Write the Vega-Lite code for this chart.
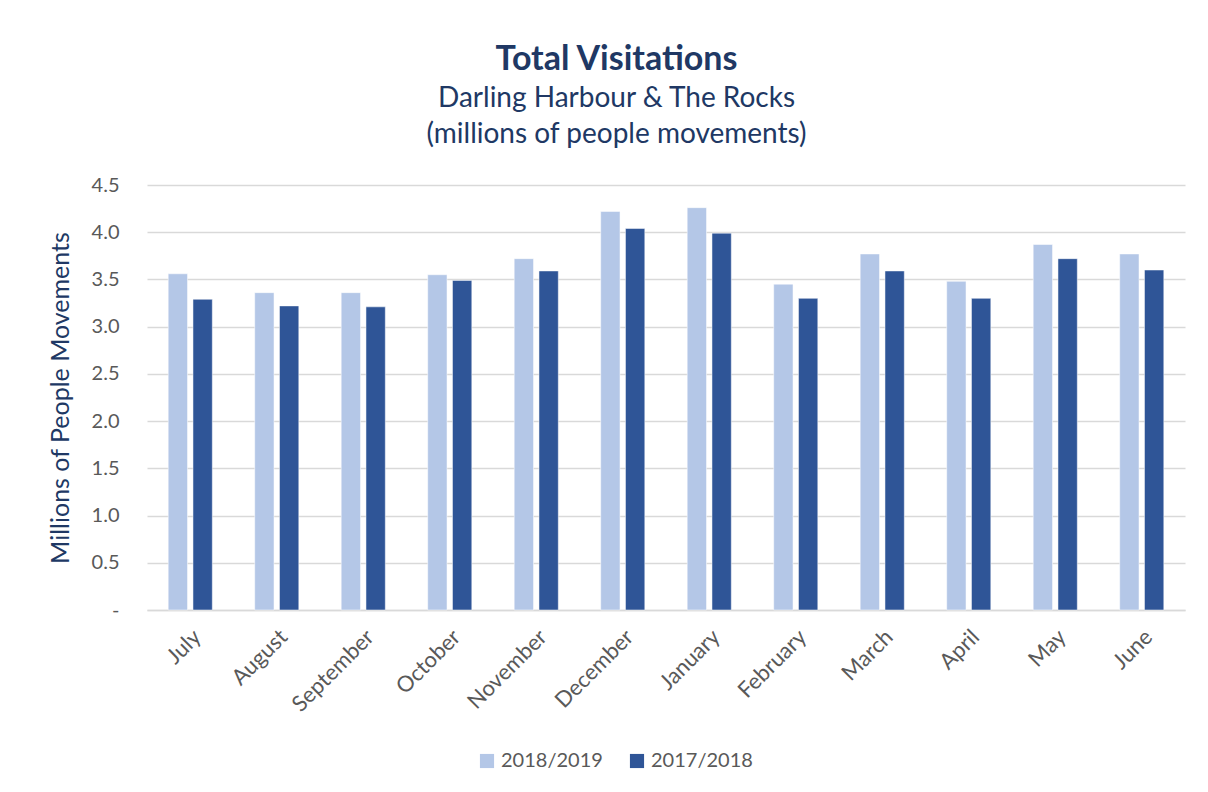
{
  "$schema": "https://vega.github.io/schema/vega-lite/v6.json",
  "width": 1038,
  "height": 425,
  "padding": {"left": 48, "top": 43, "right": 23, "bottom": 10},
  "background": "white",
  "title": {
    "text": "Total Visitations",
    "subtitle": ["Darling Harbour & The Rocks", "(millions of people movements)"],
    "font": "Lato",
    "fontSize": 34,
    "fontWeight": "bold",
    "color": "#203864",
    "subtitleFont": "Lato",
    "subtitleFontSize": 28,
    "subtitleColor": "#203864",
    "subtitlePadding": 8,
    "subtitleLineHeight": 36,
    "anchor": "middle",
    "frame": "bounds",
    "offset": 26
  },
  "data": {
    "values": [
      {"month": "July", "period": "2018/2019", "value": 3.56},
      {"month": "July", "period": "2017/2018", "value": 3.29},
      {"month": "August", "period": "2018/2019", "value": 3.36},
      {"month": "August", "period": "2017/2018", "value": 3.22},
      {"month": "September", "period": "2018/2019", "value": 3.36},
      {"month": "September", "period": "2017/2018", "value": 3.21},
      {"month": "October", "period": "2018/2019", "value": 3.55},
      {"month": "October", "period": "2017/2018", "value": 3.49},
      {"month": "November", "period": "2018/2019", "value": 3.72},
      {"month": "November", "period": "2017/2018", "value": 3.59},
      {"month": "December", "period": "2018/2019", "value": 4.22},
      {"month": "December", "period": "2017/2018", "value": 4.04},
      {"month": "January", "period": "2018/2019", "value": 4.26},
      {"month": "January", "period": "2017/2018", "value": 3.99},
      {"month": "February", "period": "2018/2019", "value": 3.45},
      {"month": "February", "period": "2017/2018", "value": 3.30},
      {"month": "March", "period": "2018/2019", "value": 3.77},
      {"month": "March", "period": "2017/2018", "value": 3.59},
      {"month": "April", "period": "2018/2019", "value": 3.48},
      {"month": "April", "period": "2017/2018", "value": 3.30},
      {"month": "May", "period": "2018/2019", "value": 3.87},
      {"month": "May", "period": "2017/2018", "value": 3.72},
      {"month": "June", "period": "2018/2019", "value": 3.77},
      {"month": "June", "period": "2017/2018", "value": 3.60}
    ]
  },
  "mark": {"type": "bar", "stroke": "white", "strokeWidth": 0.5},
  "encoding": {
    "x": {
      "field": "month",
      "type": "nominal",
      "sort": ["July", "August", "September", "October", "November", "December", "January", "February", "March", "April", "May", "June"],
      "scale": {"paddingInner": 0.49, "paddingOuter": 0.245},
      "axis": {
        "title": null,
        "labelAngle": -45,
        "labelFont": "Lato",
        "labelFontSize": 22,
        "labelColor": "#595959",
        "labelPadding": 16,
        "ticks": false,
        "domainColor": "#D9D9D9",
        "domainWidth": 1.5,
        "grid": false
      }
    },
    "xOffset": {
      "field": "period",
      "type": "nominal",
      "sort": ["2018/2019", "2017/2018"],
      "scale": {"paddingInner": 0.22, "paddingOuter": 0}
    },
    "y": {
      "field": "value",
      "type": "quantitative",
      "scale": {"domain": [0, 4.5], "nice": false},
      "axis": {
        "title": "Millions of People Movements",
        "titleFont": "Lato",
        "titleFontSize": 25,
        "titleFontWeight": "normal",
        "titleColor": "#203864",
        "titlePadding": 18,
        "values": [0, 0.5, 1, 1.5, 2, 2.5, 3, 3.5, 4, 4.5],
        "labelExpr": "datum.value == 0 ? '-' : format(datum.value, '.1f')",
        "labelFont": "Lato",
        "labelFontSize": 20,
        "labelColor": "#595959",
        "labelPadding": 28,
        "ticks": false,
        "domain": false,
        "gridColor": "#D9D9D9",
        "gridWidth": 1.5
      }
    },
    "color": {
      "field": "period",
      "type": "nominal",
      "sort": ["2018/2019", "2017/2018"],
      "scale": {"domain": ["2018/2019", "2017/2018"], "range": ["#B4C7E7", "#2F5597"]},
      "legend": {
        "title": null,
        "orient": "none",
        "legendX": 330,
        "legendY": 566,
        "direction": "horizontal",
        "symbolType": "square",
        "symbolSize": 200,
        "symbolStrokeWidth": 0,
        "labelFont": "Lato",
        "labelFontSize": 20,
        "labelOffset": 4,
        "labelColor": "#595959",
        "columnPadding": 24
      }
    }
  },
  "config": {
    "view": {"stroke": null}
  }
}
